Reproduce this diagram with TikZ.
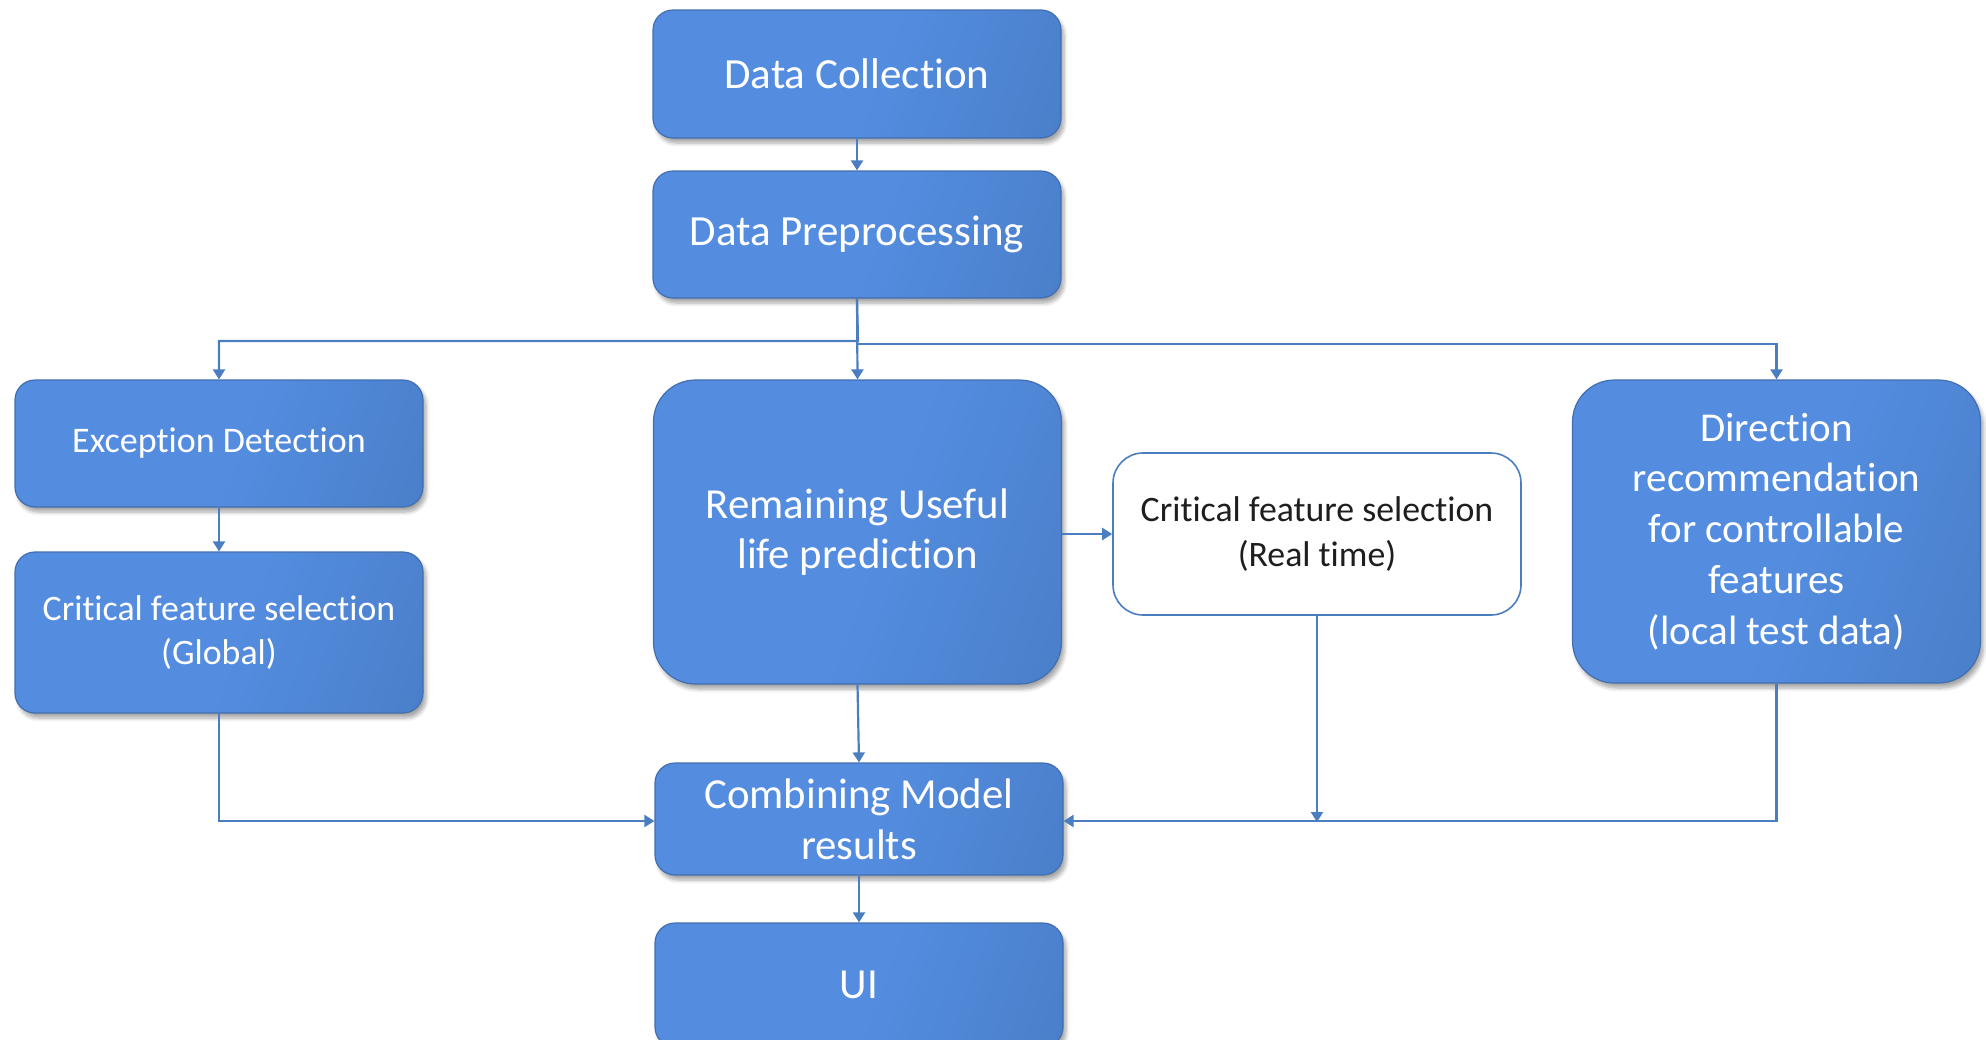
\documentclass[tikz,border=0pt]{standalone}
\usepackage{fontspec}
\setmainfont{Carlito}[Ligatures=NoCommon]
\usetikzlibrary{arrows.meta,shadows.blur}

\definecolor{bA}{RGB}{84,141,224}
\definecolor{bB}{RGB}{68,118,188}
\definecolor{bEdge}{RGB}{66,110,176}
\definecolor{lineC}{RGB}{74,126,193}
\definecolor{txtD}{RGB}{30,30,30}

% blue fill that darkens towards the lower right
\pgfdeclarehorizontalshading{boxshade}{100bp}{color(0bp)=(bA); color(52bp)=(bA); color(100bp)=(bB)}

\tikzset{
  flowbox/.style={rectangle, rounded corners=10pt, draw=bEdge, line width=0.6pt,
    shading=boxshade, shading angle=-20, text=white, align=center,
    inner sep=0pt, minimum width=204pt,
    blur shadow={shadow xshift=1.5pt, shadow yshift=-2.5pt, shadow blur steps=6, shadow opacity=35}},
  bigbox/.style={flowbox, rounded corners=21pt},
  plainbox/.style={rectangle, rounded corners=15pt, draw=lineC, line width=0.8pt,
    fill=white, text=txtD, align=center, inner sep=0pt, minimum width=204pt},
  arr/.style={draw=lineC, line width=1.1pt, -{Triangle[width=6pt,length=5pt]}}
}

\begin{document}
\begin{tikzpicture}[x=0.5pt, y=-0.5pt]
  \useasboundingbox (0,0) rectangle (1986,1039);
  \clip (0,0) rectangle (1986,1039);

  % process boxes
  \node[flowbox, minimum height=64pt, font=\fontsize{21.5}{24}\selectfont] (dc) at (857,74) {Data Collection};
  \node[flowbox, minimum height=63.5pt, font=\fontsize{21.5}{24}\selectfont] (dp) at (857,234.5) {Data Preprocessing};
  \node[flowbox, minimum height=63.5pt, font=\fontsize{18}{21}\selectfont] (ed) at (219,443.5) {Exception Detection};
  \node[flowbox, minimum height=80.5pt, font=\fontsize{17.9}{22.3}\selectfont] (cfg) at (219,632.5) {Critical feature selection\\(Global)};
  \node[bigbox, minimum height=152pt, font=\fontsize{21.4}{25.3}\selectfont] (rul) at (857.5,532) {Remaining Useful\\life prediction};
  \node[plainbox, minimum height=81pt, font=\fontsize{17.9}{22.3}\selectfont] (cfrt) at (1317,534) {Critical feature selection\\(Real time)};
  \node[bigbox, minimum height=151.5pt, font=\fontsize{20.5}{25.4}\selectfont] (dir) at (1776.5,531.5) {Direction\\recommendation\\for controllable\\features\\(local test data)};
  \node[flowbox, minimum height=56pt, font=\fontsize{21.4}{25.3}\selectfont] (cmb) at (859,819) {Combining Model\\results};
  \node[flowbox, minimum height=62pt, font=\fontsize{21.4}{24}\selectfont] (ui) at (859,985) {UI};

  % branch points of the distribution line
  \coordinate (jl) at (858,341);
  \coordinate (jr) at (858,344);

  % connectors
  \draw[arr] (dc.south) -- (dp.north);
  \draw[arr] (dp.south) -- (jl) -| (ed.north);
  \draw[arr] (dp.south) -- (rul.north);
  \draw[arr] (jr) -| (dir.north);
  \draw[arr] (ed.south) -- (cfg.north);
  \draw[arr] (rul.east |- cfrt.west) -- (cfrt.west);
  \draw[arr] (rul.south) -- (cmb.north);
  \draw[arr] (cfg.south) |- ([yshift=-1pt]cmb.west);
  \draw[arr] (dir.south) |- ([yshift=-1pt]cmb.east);
  \draw[arr] (cfrt.south) -- (cfrt.south |- 0,822);
  \draw[arr] (cmb.south) -- (ui.north);
\end{tikzpicture}
\end{document}
